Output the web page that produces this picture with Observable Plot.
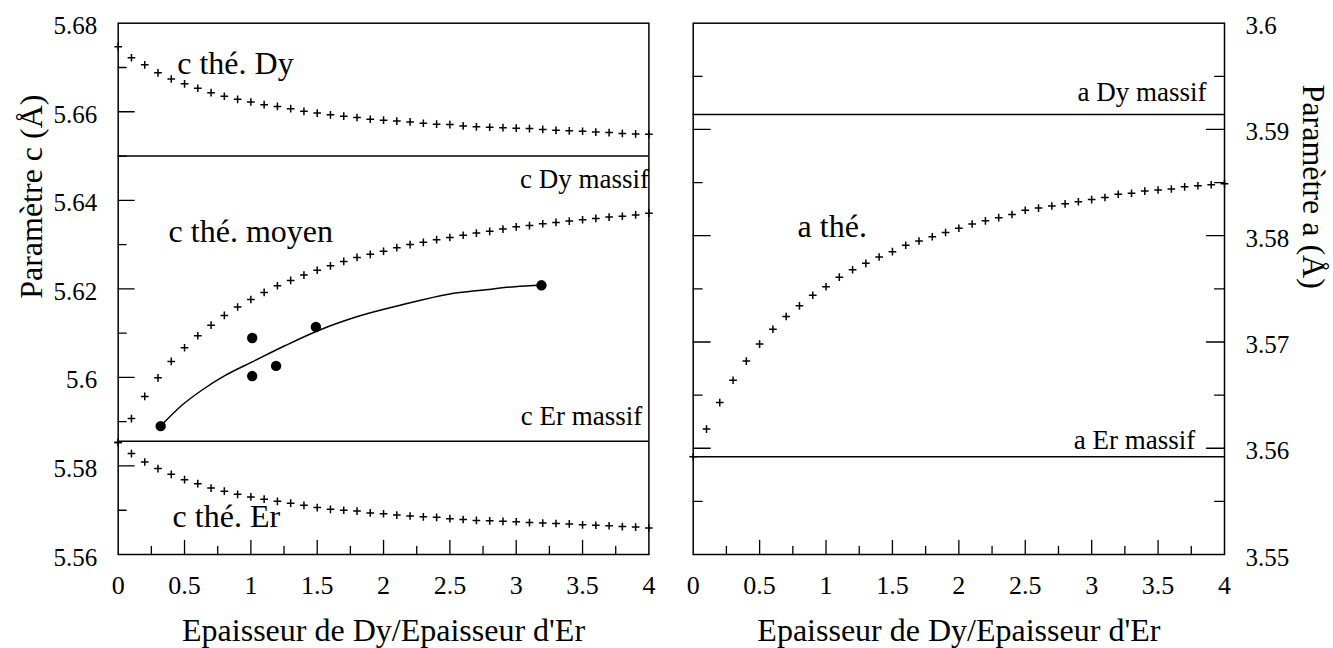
<!DOCTYPE html>
<html>
<head>
<meta charset="utf-8">
<script src="https://cdn.jsdelivr.net/npm/d3@7"></script>
<script src="https://cdn.jsdelivr.net/npm/@observablehq/plot@0.6"></script>
<style>
  html, body { margin: 0; padding: 0; background: #fff; }
  #wrap { position: relative; width: 1333px; height: 648px; overflow: hidden; }
  #left { position: absolute; left: 0; top: 0; }
  #right { position: absolute; left: 670px; top: 0; }
  #wrap svg { overflow: visible; font-family: "Liberation Serif", "Times New Roman", serif !important; }
  #wrap svg text { font-family: "Liberation Serif", "Times New Roman", serif !important; }
</style>
</head>
<body>
<div id="wrap"><div id="left"></div><div id="right"></div></div>
<script>
// ---------- data ----------
const xTheo = [0, 0.1, 0.2, 0.3, 0.4, 0.5, 0.6, 0.7, 0.8, 0.9, 1.0, 1.1, 1.2, 1.3, 1.4, 1.5, 1.6, 1.7, 1.8, 1.9, 2.0,
               2.1, 2.2, 2.3, 2.4, 2.5, 2.6, 2.7, 2.8, 2.9, 3.0, 3.1, 3.2, 3.3, 3.4, 3.5, 3.6, 3.7, 3.8, 3.9, 4.0];

// c théorique Dy
const cTheDy = [5.6747, 5.6722, 5.6706, 5.6688, 5.6674, 5.6663, 5.6653, 5.6643, 5.6635, 5.6628, 5.6622,
                5.6616, 5.6612, 5.6607, 5.6601, 5.6597, 5.6593, 5.6590, 5.6587, 5.6583, 5.6581,
                5.6579, 5.6577, 5.6574, 5.6572, 5.6571, 5.6568, 5.6566, 5.6565, 5.6564, 5.6563,
                5.6562, 5.6560, 5.6558, 5.6557, 5.6556, 5.6554, 5.6553, 5.6551, 5.6550, 5.6549];
// c théorique moyen
const cTheMoyen = [5.5853, 5.5907, 5.5957, 5.5999, 5.6036, 5.6067, 5.6094, 5.6118, 5.6140, 5.6159, 5.6176,
                   5.6192, 5.6207, 5.6219, 5.6231, 5.6242, 5.6252, 5.6262, 5.6271, 5.6278, 5.6285,
                   5.6293, 5.6300, 5.6305, 5.6311, 5.6316, 5.6321, 5.6326, 5.6330, 5.6335, 5.6340,
                   5.6343, 5.6347, 5.6350, 5.6353, 5.6356, 5.6359, 5.6362, 5.6364, 5.6367, 5.6371];
// c théorique Er
const cTheEr = [5.5853, 5.5828, 5.5809, 5.5794, 5.5781, 5.5769, 5.5760, 5.5750, 5.5743, 5.5736, 5.5730,
                5.5725, 5.5720, 5.5716, 5.5711, 5.5706, 5.5702, 5.5700, 5.5698, 5.5694, 5.5692,
                5.5689, 5.5687, 5.5685, 5.5684, 5.5681, 5.5679, 5.5677, 5.5676, 5.5675, 5.5674,
                5.5672, 5.5671, 5.5670, 5.5669, 5.5667, 5.5666, 5.5665, 5.5663, 5.5662, 5.5660];
// a théorique
const aThe = [3.5592, 3.5618, 3.5643, 3.5664, 3.5682, 3.5698, 3.5712, 3.5724, 3.5734, 3.5744, 3.5752,
              3.5761, 3.5768, 3.5774, 3.5780, 3.5785, 3.5791, 3.5795, 3.5799, 3.5803, 3.5807,
              3.5811, 3.5814, 3.5817, 3.5820, 3.5824, 3.5826, 3.5828, 3.5830, 3.5832, 3.5834,
              3.5836, 3.5839, 3.5840, 3.5842, 3.5843, 3.5844, 3.5846, 3.5847, 3.5848, 3.5849];

// measured c
const xMeas = [0.32, 1.01, 1.01, 1.19, 1.49, 3.19];
const cMeas = [5.5890, 5.6089, 5.6003, 5.6026, 5.6114, 5.6208];

// fitted curve through measurements
const xFit = [0.32, 0.48, 0.63, 0.81, 1.01, 1.26, 1.51, 1.81, 2.14, 2.49, 2.77, 2.99, 3.19];
const cFit = [5.5890, 5.5937, 5.5971, 5.6005, 5.6035, 5.6072, 5.6106, 5.6138, 5.6164, 5.6188, 5.6198, 5.6205, 5.6208];

// bulk values
const cMassif = [5.6500, 5.5856];   // Dy, Er
const aMassif = [3.5914, 3.5592];   // Dy, Er

// annotation labels
const leftBigText = ["c thé. Dy", "c thé. moyen", "c thé. Er"];
const leftBigX = [0.445, 0.38, 0.41];
const leftBigY = [5.6686, 5.6306, 5.5662];
const leftSmallText = ["c Dy massif", "c Er massif"];
const leftSmallX = [4.0, 3.95];
const leftSmallY = [5.6427, 5.5892];
const rightBigText = ["a thé."];
const rightBigX = [0.786];
const rightBigY = [3.5799];
const rightSmallText = ["a Dy massif", "a Er massif"];
const rightSmallX = [3.865, 3.78];
const rightSmallY = [3.59266, 3.55995];

// ticks
const xTickLabels = [0, 0.5, 1, 1.5, 2, 2.5, 3, 3.5, 4];
const xMajor = [0.5, 1, 1.5, 2, 2.5, 3, 3.5];
const xMinor = [0.25, 0.75, 1.25, 1.75, 2.25, 2.75, 3.25, 3.75];
const cTickLabels = [5.56, 5.58, 5.6, 5.62, 5.64, 5.66, 5.68];
const cMajor = [5.58, 5.6, 5.62, 5.64, 5.66];
const cMinor = [5.57, 5.59, 5.61, 5.63, 5.65, 5.67];
const aTickLabels = [3.55, 3.56, 3.57, 3.58, 3.59, 3.6];
const aMajor = [3.56, 3.57, 3.58, 3.59];
const aMinor = [3.555, 3.565, 3.575, 3.585, 3.595];

const xTitle = "Epaisseur de Dy/Epaisseur d'Er";
const cTitle = "Paramètre c (Å)";
const aTitle = "Paramètre a (Å)";

// ---------- helpers ----------
const STYLE = "font-family: 'Liberation Serif', 'Times New Roman', serif; font-size: 25px; background: white; overflow: visible;";
const tickShape = {draw(context, l) { context.moveTo(0, 0); context.lineTo(0, -l); }};
function tickMarks(values, side, length) {
  const o = {anchor: "start", shape: tickShape, stroke: "black", strokeWidth: 1.3, length};
  if (side === "bottom") return Plot.vector(values, {...o, x: d => d, frameAnchor: "bottom", rotate: 0});
  if (side === "left") return Plot.vector(values, {...o, y: d => d, frameAnchor: "left", rotate: 90});
  return Plot.vector(values, {...o, y: d => d, frameAnchor: "right", rotate: -90});
}
const crossStyle = {symbol: "plus", r: 2.6, stroke: "black", strokeWidth: 1.5};

// ---------- left panel ----------
const left = Plot.plot({
  width: 670, height: 648,
  marginLeft: 117.7, marginRight: 21.6, marginTop: 22.7, marginBottom: 94,
  style: STYLE,
  x: {domain: [0, 4]},
  y: {domain: [5.56, 5.68]},
  marks: [
    Plot.ruleY(cMassif, {stroke: "black", strokeWidth: 1.5}),
    Plot.dot(xTheo, {x: d => d, y: (d, i) => cTheDy[i], ...crossStyle}),
    Plot.dot(xTheo, {x: d => d, y: (d, i) => cTheMoyen[i], ...crossStyle}),
    Plot.dot(xTheo, {x: d => d, y: (d, i) => cTheEr[i], ...crossStyle}),
    Plot.line(xFit, {x: d => d, y: (d, i) => cFit[i], curve: "monotone-x", stroke: "black", strokeWidth: 1.5}),
    Plot.dot(xMeas, {x: d => d, y: (d, i) => cMeas[i], r: 5.2, fill: "black"}),
    Plot.text(leftBigText, {x: (d, i) => leftBigX[i], y: (d, i) => leftBigY[i], text: d => d,
      textAnchor: "start", lineAnchor: "bottom", fontSize: 32}),
    Plot.text(leftSmallText, {x: (d, i) => leftSmallX[i], y: (d, i) => leftSmallY[i], text: d => d,
      textAnchor: "end", lineAnchor: "bottom", fontSize: 27}),
    tickMarks(xMajor, "bottom", 14),
    tickMarks(xMinor, "bottom", 8),
    tickMarks(cMajor, "left", 16),
    tickMarks(cMinor, "left", 8),
    Plot.axisX({ticks: xTickLabels, tickSize: 0, tickPadding: 21, tickFormat: d => String(d), label: null, fontSize: 26}),
    Plot.axisY({anchor: "left", ticks: cTickLabels, tickSize: 0, tickPadding: 21, tickFormat: d => String(d), label: null, dy: 3, fontSize: 25}),
    Plot.text([xTitle], {frameAnchor: "bottom", text: d => d, dy: 86, lineAnchor: "bottom", fontSize: 32}),
    Plot.text([cTitle], {frameAnchor: "left", text: d => d, rotate: -90, dx: -76, dy: 10, lineAnchor: "bottom", fontSize: 32}),
    Plot.frame({stroke: "black", strokeWidth: 1.5})
  ]
});
document.getElementById("left").appendChild(left);

// ---------- right panel ----------
const right = Plot.plot({
  width: 663, height: 648,
  marginLeft: 22.7, marginRight: 109, marginTop: 22.7, marginBottom: 94,
  style: STYLE,
  x: {domain: [0, 4]},
  y: {domain: [3.55, 3.6]},
  marks: [
    Plot.ruleY(aMassif, {stroke: "black", strokeWidth: 1.5}),
    Plot.dot(xTheo, {x: d => d, y: (d, i) => aThe[i], ...crossStyle}),
    Plot.text(rightBigText, {x: (d, i) => rightBigX[i], y: (d, i) => rightBigY[i], text: d => d,
      textAnchor: "start", lineAnchor: "bottom", fontSize: 32}),
    Plot.text(rightSmallText, {x: (d, i) => rightSmallX[i], y: (d, i) => rightSmallY[i], text: d => d,
      textAnchor: "end", lineAnchor: "bottom", fontSize: 27}),
    tickMarks(xMajor, "bottom", 14),
    tickMarks(xMinor, "bottom", 8),
    tickMarks(aMajor, "left", 17),
    tickMarks(aMinor, "left", 9),
    tickMarks(aMajor, "right", 18),
    tickMarks(aMinor, "right", 10),
    Plot.axisX({ticks: xTickLabels, tickSize: 0, tickPadding: 21, tickFormat: d => String(d), label: null, fontSize: 26}),
    Plot.axisY({anchor: "right", ticks: aTickLabels, tickSize: 0, tickPadding: 21, tickFormat: d => String(d), label: null, dy: 3, fontSize: 25}),
    Plot.text([xTitle], {frameAnchor: "bottom", text: d => d, dy: 86, lineAnchor: "bottom", fontSize: 32}),
    Plot.text([aTitle], {frameAnchor: "right", text: d => d, rotate: 90, dx: 78, dy: 0, lineAnchor: "bottom", fontSize: 32}),
    Plot.frame({stroke: "black", strokeWidth: 1.5})
  ]
});
document.getElementById("right").appendChild(right);
</script>
</body>
</html>
